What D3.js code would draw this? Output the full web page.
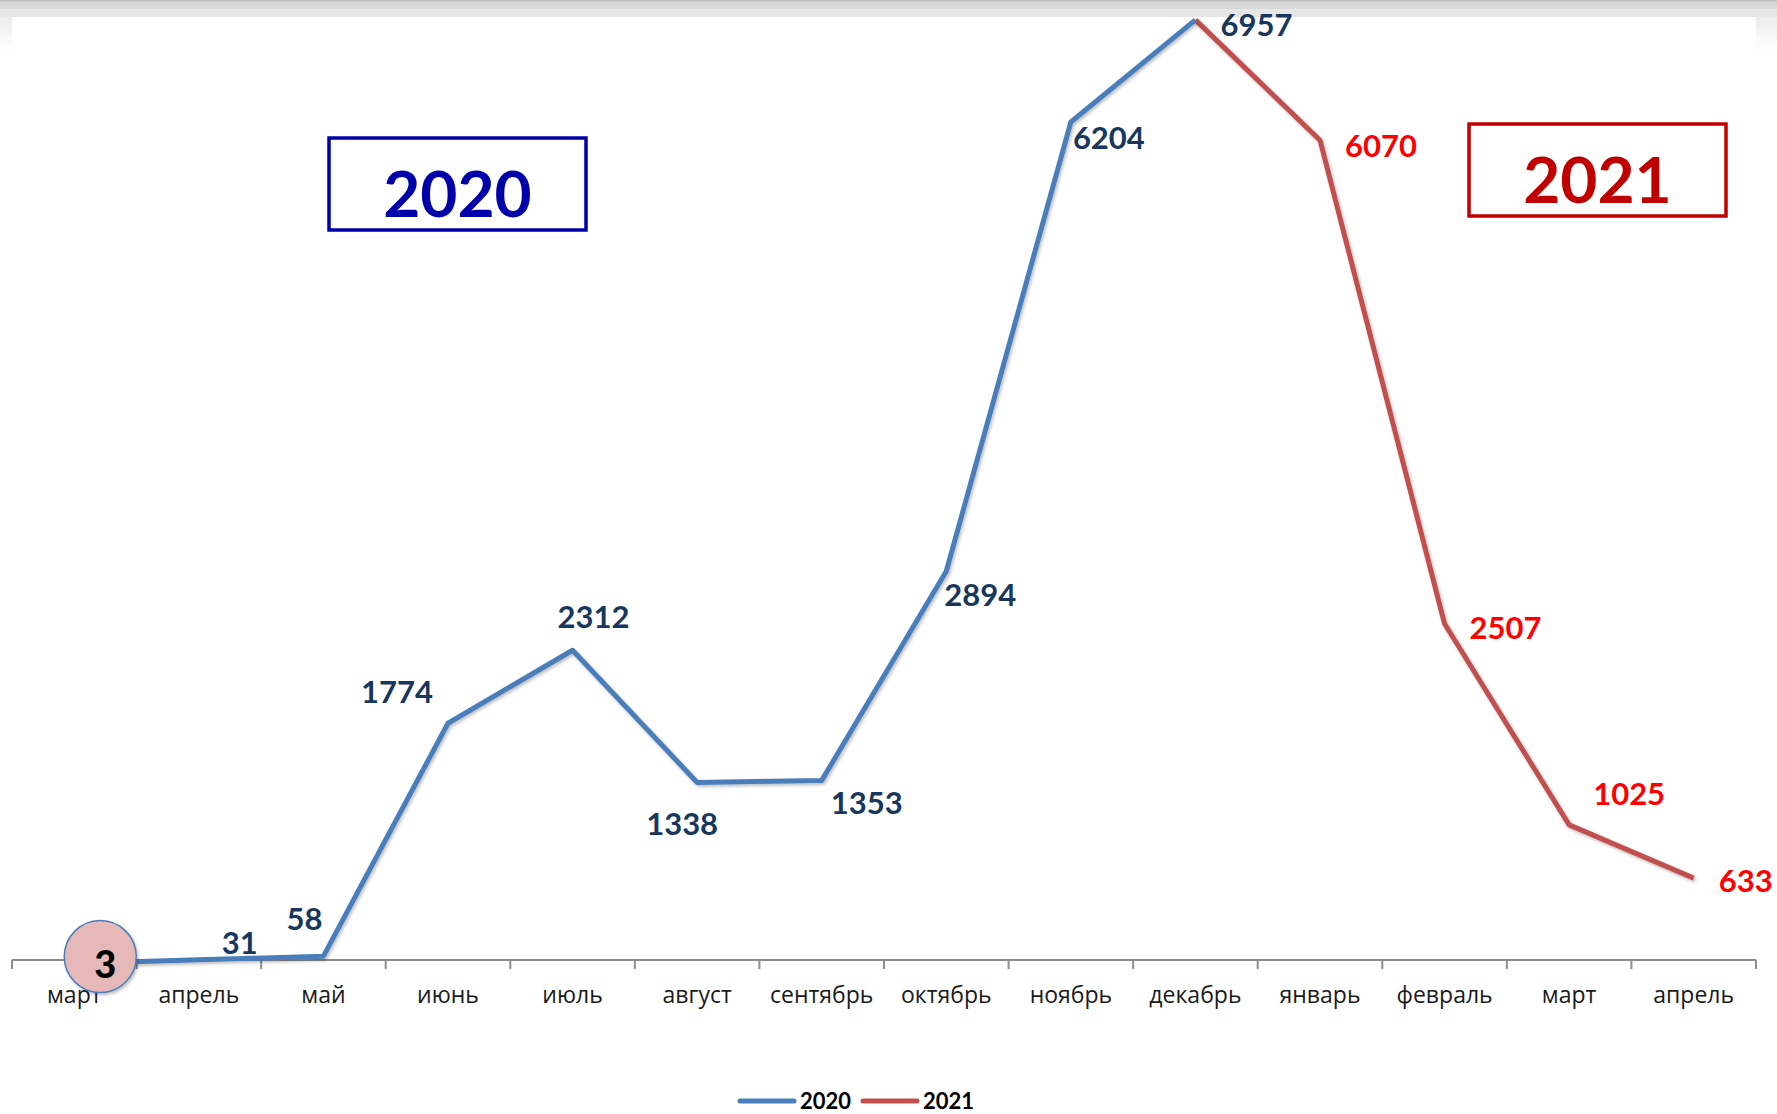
<!DOCTYPE html>
<html>
<head>
<meta charset="utf-8">
<script src="https://cdn.jsdelivr.net/npm/d3@7"></script>
<style>
  html, body { margin: 0; padding: 0; background: #fff; }
  svg { display: block; }
  .cat { font-family: "Open Sans", "Noto Sans", sans-serif; font-size: 23px; fill: #1a1a1a; }
  .lbl { font-family: Lato, "Open Sans", sans-serif; font-weight: 700; font-size: 31px; }
</style>
</head>
<body>
<svg id="chart" width="1777" height="1114"></svg>
<script>
// months along the axis (March 2020 .. April 2021)
var months = ["март", "апрель", "май", "июнь", "июль", "август", "сентябрь",
              "октябрь", "ноябрь", "декабрь", "январь", "февраль", "март", "апрель"];
// 2020 series covers index 0..9, 2021 series index 9..13
var values2020 = [3, 31, 58, 1774, 2312, 1338, 1353, 2894, 6204, 6957];
var values2021 = [6957, 6070, 2507, 1025, 633];
var start2021 = 9;
var seriesNames = ["2020", "2021"];

// label nudges (px) relative to each point, as dragged in the original
var nudge = [[0, 0], [41, -6], [-19, -26], [-51, -20], [21, -22], [-15, 53], [45, 34],
             [34, 35], [38, 27], [61, 16], [61, 17], [61, 15], [60, -20], [52, 14]];

var svg = d3.select("#chart"),
    width = 1777, height = 1114;

var defs = svg.append("defs");
var f = defs.append("filter").attr("id", "shadow")
    .attr("x", "-20%").attr("y", "-20%").attr("width", "140%").attr("height", "140%");
f.append("feDropShadow").attr("dx", 1.5).attr("dy", 2).attr("stdDeviation", 1.5)
    .attr("flood-color", "#000").attr("flood-opacity", 0.25);

var fade = defs.append("linearGradient").attr("id", "fade").attr("x1", 0).attr("y1", 0).attr("x2", 0).attr("y2", 1);
fade.append("stop").attr("offset", 0).attr("stop-color", "#ececec");
fade.append("stop").attr("offset", 1).attr("stop-color", "#ffffff");

// window chrome at the top
svg.append("rect").attr("x", 0).attr("y", 0).attr("width", width).attr("height", 17).attr("fill", "#e6e6e6");
svg.append("rect").attr("x", 0).attr("y", 0).attr("width", width).attr("height", 9).attr("fill", "#d9d9d9");
svg.append("rect").attr("x", 0).attr("y", 0).attr("width", width).attr("height", 1.5).attr("fill", "#bdbdbd");
svg.append("rect").attr("x", 0).attr("y", 17).attr("width", 12).attr("height", 34).attr("fill", "url(#fade)");
svg.append("rect").attr("x", 1756).attr("y", 17).attr("width", 21).attr("height", 34).attr("fill", "url(#fade)");

var x = d3.scaleBand()
    .domain(d3.range(months.length))
    .range([12, 1756]);
var y = d3.scaleLinear()
    .domain([0, 7000])
    .range([964, 14]);
var cx = function(i) { return x(i) + x.bandwidth() / 2; };

// category axis
var axisY = 960;
var g = svg.append("g").attr("transform", "translate(0," + axisY + ")");
g.append("line").attr("x1", 12).attr("x2", 1756).attr("stroke", "#8c8c8c").attr("stroke-width", 2);
g.selectAll("line.tick")
    .data(d3.range(months.length + 1))
  .enter().append("line")
    .attr("class", "tick")
    .attr("x1", function(d) { return d === months.length ? 1756 : x(d); })
    .attr("x2", function(d) { return d === months.length ? 1756 : x(d); })
    .attr("y1", 0).attr("y2", 9)
    .attr("stroke", "#8c8c8c").attr("stroke-width", 2);
g.selectAll("text.cat")
    .data(months)
  .enter().append("text")
    .attr("class", "cat")
    .attr("x", function(d, i) { return cx(i); })
    .attr("y", 43)
    .attr("text-anchor", "middle")
    .text(function(d) { return d; });

// series lines
var line = d3.line()
    .x(function(d) { return cx(d.i); })
    .y(function(d) { return y(d.v); });
var pts2020 = values2020.map(function(v, i) { return {i: i, v: v}; });
var pts2021 = values2021.map(function(v, i) { return {i: i + start2021, v: v}; });

svg.append("path").datum(pts2021)
    .attr("d", line).attr("fill", "none")
    .attr("stroke", "#c0504d").attr("stroke-width", 5)
    .attr("stroke-linejoin", "round").attr("filter", "url(#shadow)");
svg.append("path").datum(pts2020)
    .attr("d", line).attr("fill", "none")
    .attr("stroke", "#4a7ebb").attr("stroke-width", 5)
    .attr("stroke-linejoin", "round").attr("filter", "url(#shadow)");

// highlight circle on the first value
svg.append("circle")
    .attr("cx", cx(0) + 26).attr("cy", y(values2020[0]) - 7).attr("r", 36)
    .attr("fill", "#e6b9b8").attr("stroke", "#4a7ebb").attr("stroke-width", 1.5)
    .attr("filter", "url(#shadow)");
svg.append("text")
    .attr("class", "lbl")
    .attr("x", cx(0) + 31).attr("y", y(values2020[0]) + 14)
    .attr("text-anchor", "middle")
    .style("font-size", "38px").style("font-weight", 900).attr("fill", "#000")
    .text(values2020[0]);

// data labels
var labels = pts2020.slice(1).map(function(d) { return {i: d.i, v: d.v, c: "#17375e"}; })
    .concat(pts2021.slice(1).map(function(d) { return {i: d.i, v: d.v, c: "#ff0000"}; }));
svg.selectAll("text.dl")
    .data(labels)
  .enter().append("text")
    .attr("class", "lbl dl")
    .attr("x", function(d) { return cx(d.i) + nudge[d.i][0]; })
    .attr("y", function(d) { return y(d.v) + nudge[d.i][1]; })
    .attr("text-anchor", "middle")
    .attr("fill", function(d) { return d.c; })
    .text(function(d) { return d.v; });

// year boxes
var boxes = [
  {name: seriesNames[0], x: 329, y: 138, w: 257, h: 92, c: "#0000aa"},
  {name: seriesNames[1], x: 1469, y: 124, w: 257, h: 92, c: "#c00000"}
];
boxes.forEach(function(b) {
  svg.append("rect").attr("x", b.x).attr("y", b.y).attr("width", b.w).attr("height", b.h)
      .attr("fill", "#fff").attr("stroke", b.c).attr("stroke-width", 3.5);
  svg.append("text").attr("class", "lbl")
      .attr("x", b.x + b.w / 2).attr("y", b.y + 79)
      .attr("text-anchor", "middle").style("font-size", "64px")
      .attr("fill", b.c).text(b.name);
});

// legend
var legend = svg.append("g").attr("transform", "translate(740,1101)");
var legColors = ["#4a7ebb", "#c0504d"];
seriesNames.forEach(function(name, k) {
  var lg = legend.append("g").attr("transform", "translate(" + (k * 123) + ",0)");
  lg.append("line").attr("x1", 0).attr("x2", 54)
      .attr("stroke", legColors[k]).attr("stroke-width", 5).attr("stroke-linecap", "round");
  lg.append("text").attr("class", "lbl").attr("x", 60).attr("y", 8)
      .style("font-size", "22px").attr("fill", "#000").text(name);
});
</script>
</body>
</html>
